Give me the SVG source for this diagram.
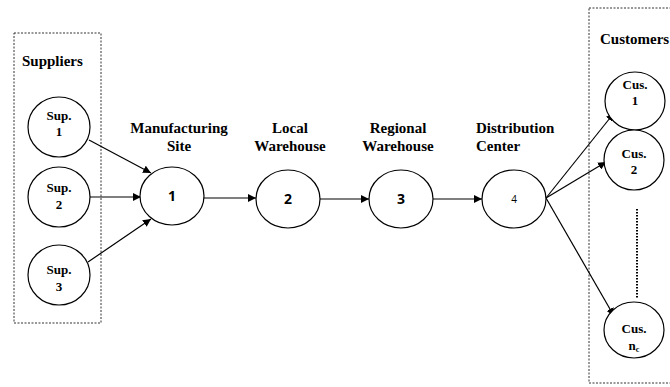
<svg xmlns="http://www.w3.org/2000/svg" width="670" height="387" viewBox="0 0 670 387">
<style>
.box{fill:none;stroke:#333;stroke-width:1;stroke-dasharray:2,1.5}
.nd{fill:#fff;stroke:#000;stroke-width:1.2}
.lb{font-family:"Liberation Serif","Times New Roman",serif;font-weight:bold;font-size:15px;fill:#000}
.sm{font-family:"Liberation Serif","Times New Roman",serif;font-weight:bold;font-size:13px;fill:#000;text-anchor:middle}
.num{font-family:"Open Sans","DejaVu Sans",sans-serif;font-weight:bold;font-size:14px;fill:#000;text-anchor:middle}
.cn{stroke:#000;stroke-width:1.2;fill:none;marker-end:url(#ah)}
</style>
<defs>
<marker id="ah" viewBox="0 0 10 10" refX="10" refY="5" markerWidth="8" markerHeight="8" markerUnits="userSpaceOnUse" orient="auto">
<path d="M0,0 L10,5 L0,10 z" fill="#000"/>
</marker>
</defs>
<rect class="box" x="14" y="33" width="87" height="290"/>
<rect class="box" x="589" y="8" width="90" height="375"/>
<text class="lb" x="22" y="66">Suppliers</text>
<text class="lb" x="600" y="44">Customers</text>
<g id="labels">
<text class="lb" x="179" y="133" text-anchor="middle">Manufacturing</text>
<text class="lb" x="179" y="151" text-anchor="middle">Site</text>
<text class="lb" x="290" y="133" text-anchor="middle">Local</text>
<text class="lb" x="290" y="151" text-anchor="middle">Warehouse</text>
<text class="lb" x="398" y="133" text-anchor="middle">Regional</text>
<text class="lb" x="398" y="151" text-anchor="middle">Warehouse</text>
<text class="lb" x="476" y="133">Distribution</text>
<text class="lb" x="476" y="151">Center</text>
</g>
<g id="connectors">
<line class="cn" x1="89" y1="140" x2="151" y2="173"/>
<line class="cn" x1="90" y1="197" x2="141" y2="197"/>
<line class="cn" x1="88" y1="262" x2="151" y2="219"/>
<line class="cn" x1="204" y1="198" x2="256" y2="198"/>
<line class="cn" x1="320" y1="199" x2="369" y2="199"/>
<line class="cn" x1="433" y1="199" x2="482" y2="199"/>
<line class="cn" x1="546" y1="198" x2="614" y2="113"/>
<line class="cn" x1="546" y1="198" x2="606" y2="162"/>
<line class="cn" x1="546" y1="198" x2="614" y2="316"/>
<line x1="637" y1="209" x2="637" y2="298" stroke="#000" stroke-width="2" stroke-dasharray="1.5,1.5"/>
</g>
<g id="sup1"><ellipse class="nd" cx="59" cy="127" rx="31" ry="30"/><text class="sm" x="59" y="120">Sup.</text><text class="sm" x="59" y="136">1</text></g>
<g id="sup2"><ellipse class="nd" cx="59" cy="197" rx="31" ry="30"/><text class="sm" x="59" y="192">Sup.</text><text class="sm" x="59" y="209">2</text></g>
<g id="sup3"><ellipse class="nd" cx="59" cy="275" rx="31" ry="30"/><text class="sm" x="59" y="274">Sup.</text><text class="sm" x="59" y="291">3</text></g>
<g id="n1"><ellipse class="nd" cx="172" cy="196" rx="32" ry="29"/><text class="num" x="172" y="201">1</text></g>
<g id="n2"><ellipse class="nd" cx="288" cy="199" rx="32" ry="29"/><text class="num" x="288" y="204">2</text></g>
<g id="n3"><ellipse class="nd" cx="401" cy="199" rx="32" ry="29"/><text class="num" x="401" y="204">3</text></g>
<g id="n4"><ellipse class="nd" cx="514" cy="199" rx="32" ry="29"/><text x="514" y="203" font-family="'Open Sans','DejaVu Sans',sans-serif" font-size="10" text-anchor="middle">4</text></g>
<g id="cus1"><ellipse class="nd" cx="635" cy="101" rx="30" ry="29"/><text class="sm" x="635" y="89">Cus.</text><text class="sm" x="635" y="105">1</text></g>
<g id="cus2"><ellipse class="nd" cx="634" cy="160" rx="30" ry="30"/><text class="sm" x="634" y="158">Cus.</text><text class="sm" x="634" y="174">2</text></g>
<g id="cusnc"><ellipse class="nd" cx="634" cy="330" rx="30" ry="28"/><text class="sm" x="634" y="333">Cus.</text><text class="sm" x="634" y="350">n<tspan font-size="8" dy="2">c</tspan></text></g>
</svg>
